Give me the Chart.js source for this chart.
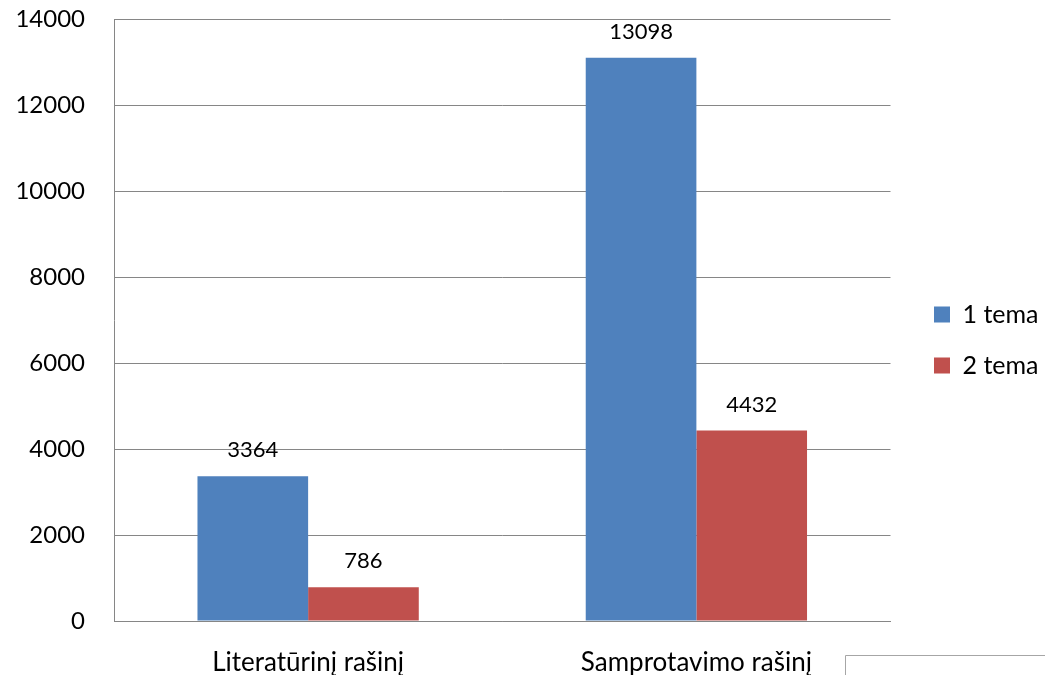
<!DOCTYPE html>
<html>
<head>
<meta charset="utf-8">
<script src="https://cdn.jsdelivr.net/npm/chart.js@4/dist/chart.umd.min.js"></script>
<style>
  html, body { margin: 0; padding: 0; background: #fff; }
  #wrap { width: 1045px; height: 675px; }
</style>
</head>
<body>
<div id="wrap"><canvas id="grafico" width="1045" height="675"></canvas></div>
<script>
// data
const categories = ['Literatūrinį rašinį', 'Samprotavimo rašinį'];
const seriesNames = ['1 tema', '2 tema'];
const tema1 = [3364, 13098];
const tema2 = [786, 4432];
const yTicks = [0, 2000, 4000, 6000, 8000, 10000, 12000, 14000];

const FONT = 'Lato, "Open Sans", sans-serif';
const gridGray = '#868686';

// value labels above bars
const valueLabels = {
  id: 'valueLabels',
  afterDatasetsDraw(chart) {
    const ctx = chart.ctx;
    ctx.save();
    ctx.fillStyle = '#000';
    ctx.font = '22px ' + FONT;
    ctx.textAlign = 'center';
    ctx.textBaseline = 'middle';
    chart.data.datasets.forEach((ds, i) => {
      chart.getDatasetMeta(i).data.forEach((bar, j) => {
        ctx.fillText(String(ds.data[j]), bar.x, bar.y - 26);
      });
    });
    ctx.restore();
  }
};

// nudge legend a bit right and up, like the original
const legendNudge = {
  id: 'legendNudge',
  afterLayout(chart) {
    const lg = chart.legend;
    const dx = 908 - lg.left;
    lg.left += dx; lg.right += dx;
    lg.top -= 7; lg.bottom -= 7;
  }
};

// leftover frame corner bottom right
const frameCorner = {
  id: 'frameCorner',
  afterDraw(chart) {
    const ctx = chart.ctx;
    ctx.save();
    ctx.strokeStyle = '#a6a6a6';
    ctx.lineWidth = 1;
    ctx.beginPath();
    ctx.moveTo(845.5, 675);
    ctx.lineTo(845.5, 655.5);
    ctx.lineTo(1045, 655.5);
    ctx.stroke();
    ctx.restore();
  }
};

new Chart(document.getElementById('grafico').getContext('2d'), {
  type: 'bar',
  data: {
    labels: categories,
    datasets: [
      { label: seriesNames[0], data: tema1, backgroundColor: '#4F81BD' },
      { label: seriesNames[1], data: tema2, backgroundColor: '#C0504D' }
    ]
  },
  options: {
    responsive: false,
    animation: false,
    layout: { padding: { top: 19, right: 14, bottom: 0, left: 0 } },
    datasets: { bar: { categoryPercentage: 0.57, barPercentage: 1 } },
    plugins: {
      tooltip: { enabled: false },
      legend: {
        position: 'right',
        labels: {
          boxWidth: 16,
          boxHeight: 16,
          padding: 26,
          color: '#000',
          font: { family: FONT, size: 25 }
        }
      }
    },
    scales: {
      x: {
        grid: { display: false },
        border: { display: true, color: gridGray },
        ticks: { color: '#000', padding: 18, font: { family: FONT, size: 26 } },
        afterFit(scale) {
          scale.height = 54;
          scale.paddingLeft = 0;
          scale.paddingRight = 0;
        }
      },
      y: {
        min: 0,
        max: 14000,
        afterBuildTicks(scale) { scale.ticks = yTicks.map(v => ({ value: v })); },
        grid: { color: gridGray, drawTicks: false },
        border: { display: true, color: gridGray },
        ticks: {
          color: '#000',
          padding: 29,
          font: { family: FONT, size: 24 },
          callback: v => String(v)
        },
        afterFit(scale) {
          scale.width = 114;
          scale.paddingTop = 0;
          scale.paddingBottom = 0;
        }
      }
    }
  },
  plugins: [valueLabels, legendNudge, frameCorner]
});
</script>
</body>
</html>
